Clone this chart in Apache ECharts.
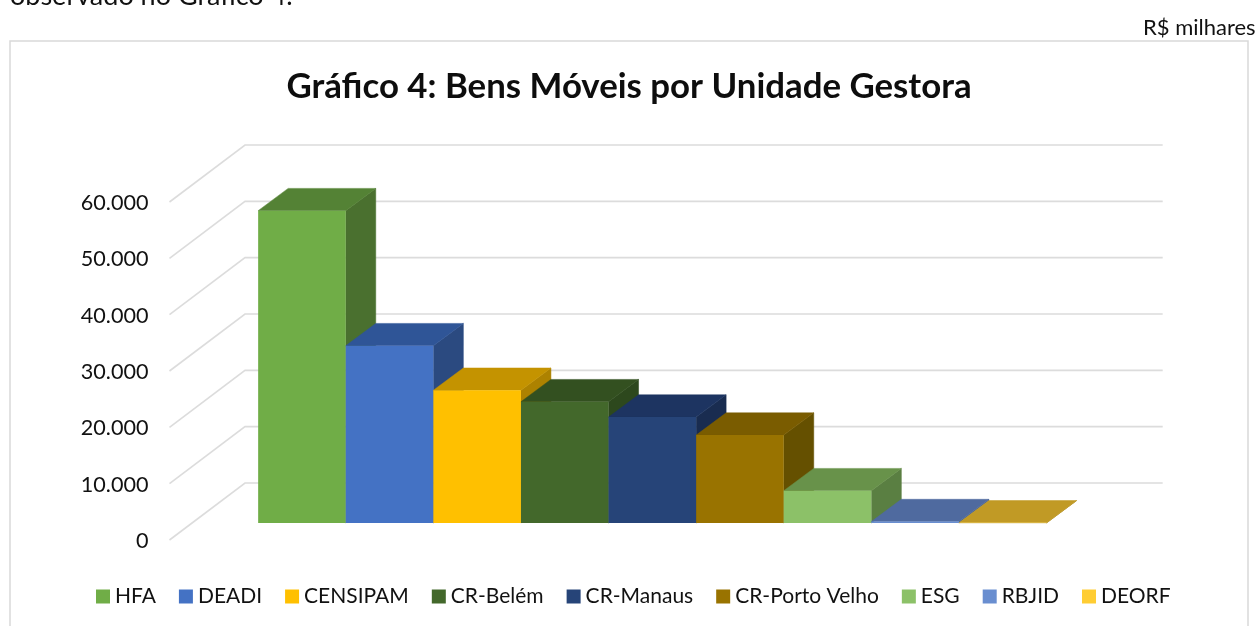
<!DOCTYPE html>
<html>
<head>
<meta charset="utf-8">
<style>html,body{margin:0;padding:0;background:#fff;overflow:hidden}#c{width:1259px;height:626px}</style>
<script src="https://cdn.jsdelivr.net/npm/echarts@6/dist/echarts.min.js"></script>
</head>
<body>
<div id="c"></div>
<script>
const categoryLabels = ['Bens Móveis'];
const unitNames = ['HFA','DEADI','CENSIPAM','CR-Belém','CR-Manaus','CR-Porto Velho','ESG','RBJID','DEORF'];
const unitValues = [55440,31470,23560,21530,18800,15600,5730,250,30];
const tickValues = [0,10000,20000,30000,40000,50000,60000];
const frontColors = ['#70ad47','#4472c4','#ffc000','#43682b','#264478','#997300','#8cc168','#698ed0','#ffcd33'];
const topColors   = ['#548235','#2f5597','#c49300','#335020','#1d3461','#7a5c00','#68924a','#4f6a9f','#c19a25'];
const sideColors  = ['#4a702f','#2b4a80','#ad8200','#2d481d','#192c50','#655000','#5a7f42','#46608f','#ad8a20'];

const FONT = 'Lato, "Open Sans", sans-serif';
// oblique projection of the 3D plot box
const WALL_DX = 75.5, WALL_DY = -57;
const FLOOR_DX = 24, FLOOR_DY = -17;
const BAR_DX = 30, BAR_DY = -22.3;
const BAR_W = 87.6;

function poly(points, fill) {
  return { type: 'polygon', shape: { points }, style: { fill, stroke: fill, lineWidth: 0.5 } };
}

function renderWall(params, api) {
  const p = api.coord([0, api.value(1)]);
  const w = api.size([1, 0])[0];
  return {
    type: 'polyline',
    shape: { points: [[p[0] - w / 2, p[1]], [p[0] - w / 2 + WALL_DX, p[1] + WALL_DY], [p[0] + w / 2 + WALL_DX, p[1] + WALL_DY]] },
    style: { fill: 'none', stroke: '#dcdcdc', lineWidth: 1.6 }
  };
}

function makeRenderBar(i) {
  return function (params, api) {
    const top = api.coord([0, api.value(1)]);
    const base = api.coord([0, 0]);
    const x0 = top[0] - BAR_W * unitNames.length / 2 + BAR_W * i + FLOOR_DX;
    const x1 = x0 + BAR_W;
    const yT = top[1] + FLOOR_DY;
    const yB = base[1] + FLOOR_DY;
    return {
      type: 'group',
      children: [
        poly([[x1, yB], [x1 + BAR_DX, yB + BAR_DY], [x1 + BAR_DX, yT + BAR_DY], [x1, yT]], sideColors[i]),
        poly([[x0, yT], [x0 + BAR_DX, yT + BAR_DY], [x1 + BAR_DX, yT + BAR_DY], [x1, yT]], topColors[i]),
        { type: 'rect', shape: { x: x0, y: yT, width: BAR_W, height: yB - yT }, style: { fill: frontColors[i] } }
      ]
    };
  };
}

const series = [{
  type: 'custom', name: 'grade', coordinateSystem: 'cartesian2d', clip: false, silent: true,
  data: tickValues.map(v => [0, v]), encode: { x: 0, y: 1 }, renderItem: renderWall, z: 1
}];
unitNames.forEach((name, i) => {
  series.push({
    type: 'custom', name, coordinateSystem: 'cartesian2d', clip: false,
    itemStyle: { color: frontColors[i] },
    data: [[0, unitValues[i]]], encode: { x: 0, y: 1 },
    renderItem: makeRenderBar(i), z: 2 + i
  });
});

const chart = echarts.init(document.getElementById('c'), null, { renderer: 'canvas' });
chart.setOption({
  animation: false,
  backgroundColor: '#ffffff',
  title: {
    text: 'Gráfico 4: Bens Móveis por Unidade Gestora',
    left: 624, top: 82, textAlign: 'center', textVerticalAlign: 'middle',
    textStyle: { fontFamily: FONT, fontSize: 34.8, fontWeight: 'bold', color: '#0d0d0d' }
  },
  legend: {
    data: unitNames, left: 96, top: 586, icon: 'rect', padding: 0,
    itemWidth: 14, itemHeight: 14, itemGap: 23,
    textStyle: { fontFamily: FONT, fontSize: 21, color: '#111111' }
  },
  grid: { left: 169.5, top: 202, width: 917.7, height: 338 },
  xAxis: {
    type: 'category', data: categoryLabels,
    axisLine: { show: false }, axisTick: { show: false }, axisLabel: { show: false }, splitLine: { show: false }
  },
  yAxis: {
    type: 'value', min: 0, max: 60000, interval: 10000,
    axisLine: { show: false }, axisTick: { show: false }, splitLine: { show: false },
    axisLabel: {
      margin: 21, fontFamily: FONT, fontSize: 21.6, color: '#111111', verticalAlign: 'top', lineHeight: 2,
      formatter: v => String(v).replace(/\B(?=(\d{3})+(?!\d))/g, '.')
    }
  },
  graphic: [
    { type: 'rect', shape: { x: 10, y: 41, width: 1238, height: 620 }, style: { fill: 'none', stroke: '#d9d9d9', lineWidth: 1.5 }, z: 0 },
    { type: 'text', x: 10, y: -17, style: { text: 'observado no Gráfico 4.', fontFamily: FONT, fontSize: 27, fill: '#111111' } },
    { type: 'text', x: 1143, y: 17, style: { text: 'R$ milhares', fontFamily: FONT, fontSize: 22, fill: '#111111' } }
  ],
  series
});
</script>
</body>
</html>
